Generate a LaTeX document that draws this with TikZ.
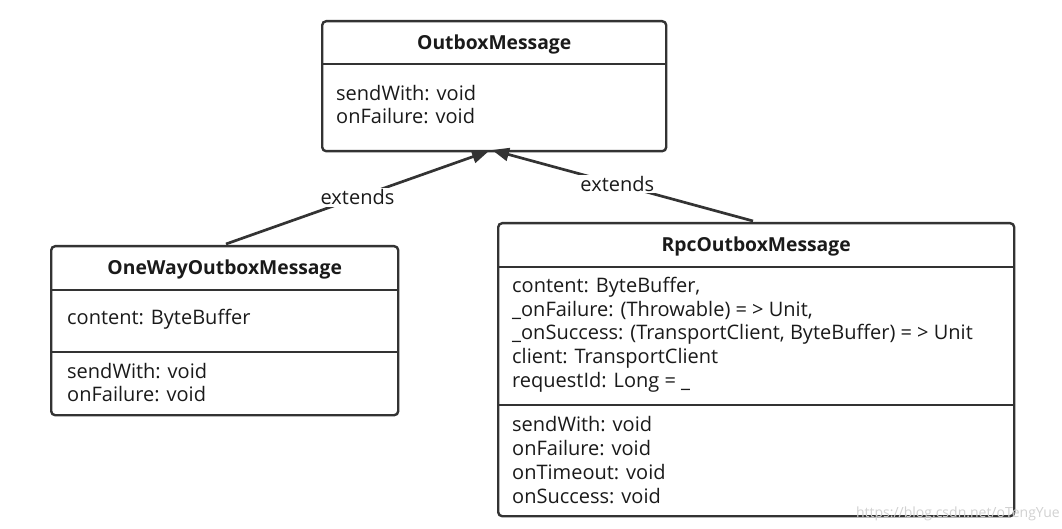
\documentclass[tikz,border=0pt]{standalone}
\usepackage{fontspec}
\setmainfont{Open Sans}
\usetikzlibrary{arrows.meta}
\definecolor{linec}{HTML}{333333}
\definecolor{textc}{HTML}{1A1A1A}
\begin{document}
\begin{tikzpicture}[x=1pt,y=-1pt,
  box/.style={draw=linec, line width=2.4pt, rounded corners=4pt, fill=white, inner sep=0pt, anchor=north west},
  ctitle/.style={font=\fontsize{19.3}{23}\selectfont\bfseries, text=textc, anchor=base, inner sep=0pt},
  member/.style={font=\fontsize{20}{23}\selectfont, text=textc, anchor=base west, inner sep=0pt},
  divider/.style={draw=linec, line width=2.4pt},
  extends/.style={draw=linec, line width=2.7pt, -{Triangle[length=17pt,width=13pt]}},
  lbl/.style={fill=white, font=\fontsize{20}{23}\selectfont, text=textc, inner sep=1.5pt},
  wmark/.style={font=\fontsize{14}{16}\selectfont, text=black!18, anchor=base east, inner sep=0pt}
]
\useasboundingbox (0,0) rectangle (1062,529);

% ---------- OutboxMessage ----------
\node[box, minimum width=344pt, minimum height=130pt] (om) at (321,20) {};
\draw[divider] (om.west |- 0,64) -- (om.east |- 0,64);
\node[ctitle] (omt) at (om.north |- 0,49.5) {OutboxMessage};
\node[member] (om1) at (336,100.5) {sendWith: void};
\node[member] (om2) at (336,123.5) {onFailure: void};

% ---------- OneWayOutboxMessage ----------
\node[box, minimum width=347pt, minimum height=169pt] (ow) at (50,245) {};
\draw[divider] (ow.west |- 0,290) -- (ow.east |- 0,290);
\draw[divider] (ow.west |- 0,352) -- (ow.east |- 0,352);
\node[ctitle] (owt) at (ow.north |- 0,274.5) {OneWayOutboxMessage};
\node[member] (ow1) at (67,324.5) {content: ByteBuffer};
\node[member] (ow2) at (67,378.5) {sendWith: void};
\node[member] (ow3) at (67,401.5) {onFailure: void};

% ---------- RpcOutboxMessage ----------
\node[box, minimum width=516pt, minimum height=293pt] (rp) at (497,222) {};
\draw[divider] (rp.west |- 0,267) -- (rp.east |- 0,267);
\draw[divider] (rp.west |- 0,405) -- (rp.east |- 0,405);
\node[ctitle] (rpt) at (rp.north |- 0,251.5) {RpcOutboxMessage};
\node[member] (rp1) at (512,292.3) {content: ByteBuffer,};
\node[member] (rp2) at (512,316.1) {\_onFailure: (Throwable) = > Unit,};
\node[member] (rp3) at (512,339.9) {\_onSuccess: (TransportClient, ByteBuffer) = > Unit};
\node[member] (rp4) at (512,363.7) {client: TransportClient};
\node[member] (rp5) at (512,387.5) {requestId: Long = \_};
\node[member] (rp6) at (512,431.7) {sendWith: void};
\node[member] (rp7) at (512,455.7) {onFailure: void};
\node[member] (rp8) at (512,479.7) {onTimeout: void};
\node[member] (rp9) at (512,503.7) {onSuccess: void};

% ---------- generalisations ----------
\coordinate (owtop) at (226,244);
\coordinate (rptop) at (753,221);
\coordinate (tipL) at (489,151);
\coordinate (tipR) at (492,150);
\draw[extends] (owtop) -- node[lbl] (l1) {extends} (tipL);
\draw[extends] (rptop) -- node[lbl, pos=0.52] (l2) {extends} (tipR);

% ---------- watermark ----------
\node[wmark] (wm) at (1060,517) {https://blog.csdn.net/oTengYue};
\end{tikzpicture}
\end{document}
